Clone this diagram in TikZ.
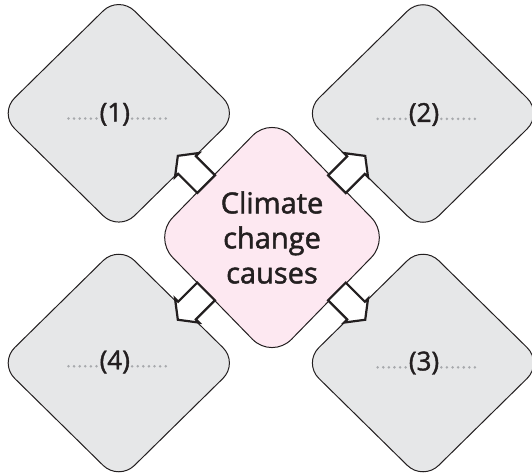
\documentclass[tikz,border=0pt]{standalone}
\usepackage{fontspec}
\setmainfont{Open Sans}
\newfontfamily\semifont{Open Sans}[FakeBold=1.6]
\usetikzlibrary{shapes.geometric,calc}
\definecolor{ink}{HTML}{231F20}
\definecolor{boxgray}{HTML}{E6E7E8}
\definecolor{boxpink}{HTML}{FDE8F1}
\definecolor{dotgray}{HTML}{A7A9AC}
\begin{document}
\begin{tikzpicture}[x=1pt,y=-1pt,
  graydia/.style={diamond, draw=ink, line width=1pt, fill=boxgray, minimum width=240pt, minimum height=236pt, inner sep=0pt, rounded corners=22pt},
  pinkdia/.style={diamond, draw=ink, line width=1pt, fill=boxpink, minimum width=238pt, minimum height=244pt, inner sep=0pt, rounded corners=28pt, align=center, text=ink, font=\semifont\fontsize{29}{35}\selectfont},
  blockarrow/.style={draw=ink, line width=2.2pt, fill=white, line join=miter},
  lbl/.style={text=ink, font=\semifont\fontsize{26}{28}\selectfont, inner sep=0pt},
  dotrow/.style={draw=dotgray, line width=2.8pt, line cap=round, dash pattern=on 0pt off 5.6pt}
]
\useasboundingbox (0,0) rectangle (532,475);
% outer diamonds
\node[graydia] (d1) at (118.8,113.3) {};
\node[graydia] (d2) at (423,113.5) {};
\node[graydia] (d3) at (423,363) {};
\node[graydia] (d4) at (118.8,363) {};
% centre
\node[pinkdia] (c) at (272,237.5) {Climate\\change\\causes};
% arrow tails
\coordinate (t1) at ($(c)!0.43!(d1)$);
\coordinate (t2) at ($(c)!0.43!(d2)$);
\coordinate (t3) at ($(c)!0.43!(d3)$);
\coordinate (t4) at ($(c)!0.43!(d4)$);
\foreach \t/\ang in {t1/135, t2/45, t3/-45, t4/-135}{
  \draw[blockarrow, shift={(\t)}, rotate=\ang]
    (0,-12.5) -- (27,-12.5) -- (27,-17) -- (40,0) -- (27,17) -- (27,12.5) -- (0,12.5) -- cycle;
}
% labels
\node[lbl] (l1) at ($(d1)+(-4,1)$) {(1)};
\node[lbl] (l2) at ($(d2)+(1,1)$) {(2)};
\node[lbl] (l3) at ($(d3)+(1,0)$) {(3)};
\node[lbl] (l4) at ($(d4)+(-4,-1)$) {(4)};
\foreach \l in {l1,l2,l3,l4}{
  \draw[dotrow] ($(\l.base west)+(-3,-3)$) -- ++(-28.5,0);
  \draw[dotrow] ($(\l.base east)+(2,-3)$) -- ++(34.1,0);
}
\end{tikzpicture}
\end{document}
